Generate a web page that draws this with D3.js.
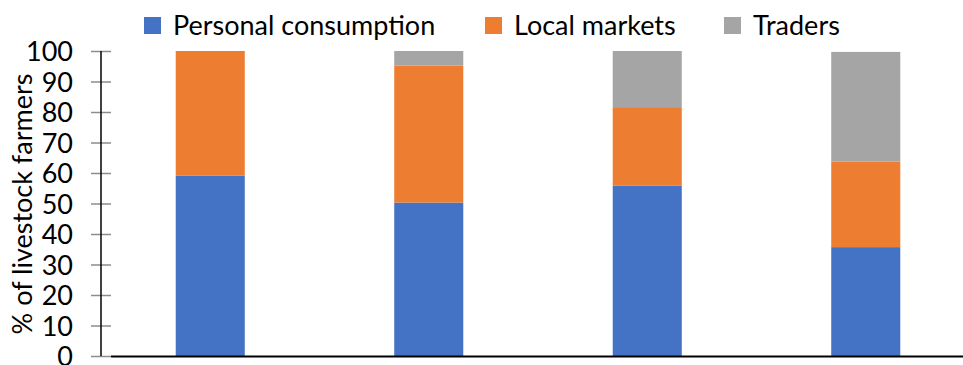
<!DOCTYPE html>
<html>
<head>
<meta charset="utf-8">
<script src="https://cdn.jsdelivr.net/npm/d3@7"></script>
<style>
  html, body { margin: 0; padding: 0; background: #fff; }
  svg { display: block; }
  text { font-family: Lato, "Open Sans", sans-serif; fill: #000; }
</style>
</head>
<body>
<svg id="chart" width="963" height="365"></svg>
<script>
// Share of livestock farmers by outlet, four groups
const groups = ["A", "B", "C", "D"];
const personalConsumption = [59.1, 50.3, 55.8, 35.7];
const localMarkets = [40.9, 44.9, 25.8, 28.0];
const traders = [0, 4.8, 18.4, 36.0];
const seriesNames = ["Personal consumption", "Local markets", "Traders"];
const seriesColors = ["#4472C4", "#ED7D31", "#A5A5A5"];
const yTicks = [0, 10, 20, 30, 40, 50, 60, 70, 80, 90, 100];

const rows = groups.map((g, i) => ({
  group: g,
  "Personal consumption": personalConsumption[i],
  "Local markets": localMarkets[i],
  "Traders": traders[i]
}));

const svg = d3.select("#chart");
const W = 963, H = 365;
const plot = { left: 101, right: 975, top: 51, bottom: 356 };

const x = d3.scaleBand().domain(groups).range([plot.left, plot.right]).paddingInner(0.684).paddingOuter(0.342);
const y = d3.scaleLinear().domain([0, 100]).range([plot.bottom, plot.top]);

const stack = d3.stack().keys(seriesNames);
const layers = stack(rows);

// Stacked bars
svg.append("g").selectAll("g")
  .data(layers)
  .join("g")
  .attr("fill", (d, i) => seriesColors[i])
  .selectAll("rect")
  .data(d => d)
  .join("rect")
  .attr("x", d => x(d.data.group))
  .attr("width", x.bandwidth())
  .attr("y", d => y(d[1]))
  .attr("height", d => Math.max(0, y(d[0]) - y(d[1])));

// Y axis with cross ticks
const yAxis = d3.axisLeft(y).tickValues(yTicks).tickSize(0).tickPadding(28);
const yg = svg.append("g").attr("transform", `translate(${plot.left},0)`).call(yAxis);
yg.select(".domain").remove();
yg.selectAll(".tick text").attr("font-size", 27).attr("dy", "0.36em").style("font-family", "Lato, sans-serif");
yg.selectAll(".tick").append("line")
  .attr("x1", -10).attr("x2", 10)
  .attr("stroke", "#8c8c8c").attr("stroke-width", 1.5);
svg.append("line")
  .attr("x1", plot.left).attr("x2", plot.left)
  .attr("y1", y(100)).attr("y2", y(0))
  .attr("stroke", "#000").attr("stroke-width", 1.5);

// X axis baseline
svg.append("line")
  .attr("x1", plot.left + 10).attr("x2", W)
  .attr("y1", y(0) + 0.5).attr("y2", y(0) + 0.5)
  .attr("stroke", "#000").attr("stroke-width", 2.2);

// Y axis title
svg.append("text")
  .attr("transform", `translate(32,204) rotate(-90)`)
  .attr("text-anchor", "middle")
  .attr("font-size", 27)
  .text("% of livestock farmers");

// Legend
const legendX = [144, 485, 724];
const legend = svg.append("g").selectAll("g")
  .data(seriesNames)
  .join("g")
  .attr("transform", (d, i) => `translate(${legendX[i]},17)`);
legend.append("rect").attr("width", 17).attr("height", 17).attr("fill", (d, i) => seriesColors[i]);
legend.append("text")
  .attr("x", 29).attr("y", 8.5).attr("dy", "0.36em")
  .attr("font-size", 27)
  .text(d => d);
</script>
</body>
</html>
